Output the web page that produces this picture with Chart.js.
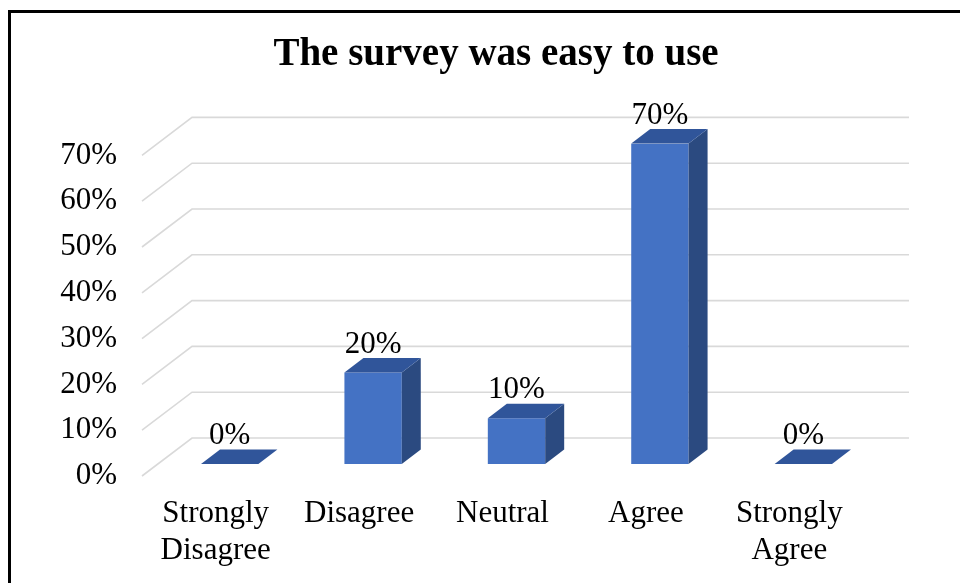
<!DOCTYPE html>
<html>
<head>
<meta charset="utf-8">
<title>The survey was easy to use</title>
<script src="https://cdn.jsdelivr.net/npm/chart.js@4.4.1/dist/chart.umd.min.js"></script>
<style>
    html, body { margin: 0; padding: 0; background: #fff; overflow: hidden; }
    #frame {
        position: absolute; left: 8px; top: 10px; width: 952px; height: 573px;
        border-top: 3px solid #000; border-left: 3px solid #000; box-sizing: border-box;
    }
    #chart { position: absolute; left: 0; top: 0; }
</style>
</head>
<body>
<div id="frame"></div>
<canvas id="chart" width="960" height="583"></canvas>
<script>
const categories = [['Strongly', 'Disagree'], 'Disagree', 'Neutral', 'Agree', ['Strongly', 'Agree']];
const values = [0, 20, 10, 70, 0];
const yTicks = [0, 10, 20, 30, 40, 50, 60, 70];

const FONT = "'Liberation Serif', 'Times New Roman', serif";

// fake 3D: back wall offset and bar depth
const wall = { dx: 34, dy: -26, fx: -16, fy: 12 };
const depth = { dx: 19, dy: -14.5 };

const wallPlugin = {
    id: 'wall',
    beforeDatasetsDraw(c) {
        const { ctx, chartArea: a, scales: { y } } = c;
        ctx.save();
        ctx.strokeStyle = '#d9d9d9';
        ctx.lineWidth = 1.6;
        yTicks.forEach(v => {
            const py = y.getPixelForValue(v);
            ctx.beginPath();
            ctx.moveTo(a.left + wall.fx, py + wall.fy);
            ctx.lineTo(a.left + wall.dx, py + wall.dy);
            ctx.lineTo(a.right + wall.dx, py + wall.dy);
            ctx.stroke();
        });
        ctx.restore();
    }
};

const barsPlugin = {
    id: 'bars3d',
    afterDatasetsDraw(c) {
        const { ctx } = c;
        const meta = c.getDatasetMeta(0);
        ctx.save();
        meta.data.forEach((bar, i) => {
            const x0 = bar.x - bar.width / 2, x1 = bar.x + bar.width / 2;
            const top = bar.y, base = bar.base;
            // side
            if (base - top > 0.5) {
                ctx.fillStyle = '#2b4a80';
                ctx.beginPath();
                ctx.moveTo(x1, top);
                ctx.lineTo(x1 + depth.dx, top + depth.dy);
                ctx.lineTo(x1 + depth.dx, base + depth.dy);
                ctx.lineTo(x1, base);
                ctx.closePath();
                ctx.fill();
            }
            // top
            ctx.fillStyle = '#30559a';
            ctx.beginPath();
            ctx.moveTo(x0, top);
            ctx.lineTo(x0 + depth.dx, top + depth.dy);
            ctx.lineTo(x1 + depth.dx, top + depth.dy);
            ctx.lineTo(x1, top);
            ctx.closePath();
            ctx.fill();
            // value label
            ctx.fillStyle = '#000';
            ctx.font = '31px ' + FONT;
            ctx.textAlign = 'center';
            ctx.textBaseline = 'middle';
            ctx.fillText(values[i] + '%', bar.x, top - 28);
        });
        ctx.restore();
    }
};

new Chart(document.getElementById('chart'), {
    type: 'bar',
    data: {
        labels: categories,
        datasets: [{
            data: values,
            backgroundColor: '#4472c4',
            borderWidth: 0,
            barPercentage: 0.4,
            categoryPercentage: 1
        }]
    },
    options: {
        responsive: false,
        animation: false,
        layout: { padding: { left: 32, right: 0, top: 0, bottom: 0 } },
        plugins: {
            legend: { display: false },
            tooltip: { enabled: false },
            title: {
                display: true,
                text: 'The survey was easy to use',
                color: '#000',
                font: { family: FONT, size: 39, weight: 'bold', lineHeight: 1.2 },
                padding: { top: 32, bottom: 64.6 }
            }
        },
        scales: {
            x: {
                grid: { display: false, drawTicks: false },
                border: { display: false },
                ticks: {
                    color: '#000',
                    font: { family: FONT, size: 31, lineHeight: 1.18 },
                    padding: 32,
                    labelOffset: -14,
                    maxRotation: 0
                },
                afterFit: s => { s.height = 119; }
            },
            y: {
                min: 0, max: 70,
                grid: { display: false, drawTicks: false },
                border: { display: false },
                ticks: {
                    stepSize: 10,
                    color: '#000',
                    font: { family: FONT, size: 31 },
                    padding: 41,
                    labelOffset: 12,
                    callback: v => v + '%'
                },
                afterFit: s => { s.width = 126; }
            },
            // empty right-hand axis, only reserves the space behind the back wall
            yRight: {
                position: 'right',
                grid: { display: false, drawTicks: false },
                border: { display: false },
                ticks: { display: false },
                afterFit: s => { s.width = 85; }
            }
        }
    },
    plugins: [wallPlugin, barsPlugin]
});
</script>
</body>
</html>
